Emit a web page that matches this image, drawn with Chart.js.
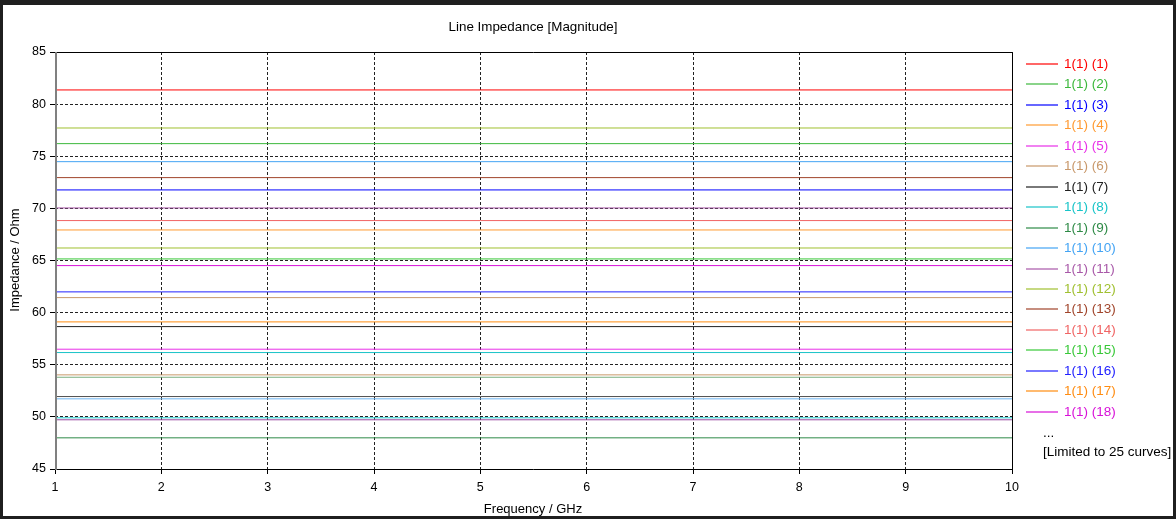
<!DOCTYPE html>
<html>
<head>
<meta charset="utf-8">
<script src="https://cdn.jsdelivr.net/npm/chart.js@4.4.1/dist/chart.umd.min.js"></script>
<style>
    html, body { margin: 0; padding: 0; background: #1f1f1f; }
    #frame { position: absolute; left: 3px; top: 5px; width: 1170px; height: 511px; background: #fff; }
</style>
</head>
<body>
<div id="frame"><canvas id="chart" width="1170" height="511"></canvas></div>
<script>
// Frequenzpunkte (GHz) und Impedanz je Kurve (Ohm), Kurven 1..25
const frequencies = [1, 2, 3, 4, 5, 6, 7, 8, 9, 10];
const curveNames = [
    "1(1) (1)", "1(1) (2)", "1(1) (3)", "1(1) (4)", "1(1) (5)",
    "1(1) (6)", "1(1) (7)", "1(1) (8)", "1(1) (9)", "1(1) (10)",
    "1(1) (11)", "1(1) (12)", "1(1) (13)", "1(1) (14)", "1(1) (15)",
    "1(1) (16)", "1(1) (17)", "1(1) (18)", "1(1) (19)", "1(1) (20)",
    "1(1) (21)", "1(1) (22)", "1(1) (23)", "1(1) (24)", "1(1) (25)"
];
const impedance = [
    81.36, 76.21, 71.77, 67.93, 56.49,
    61.44, 58.66, 56.17, 47.99, 74.48,
    70.04, 77.71, 72.95, 68.83, 65.15,
    61.99, 59.11, 64.51, 54.03, 51.95,
    49.91, 53.80, 51.73, 49.72, 66.20
];
const curveColors = [
    "#ff0000", "#3cb83c", "#0000ff", "#ff9a30", "#e830e8",
    "#c8986a", "#202020", "#18c4c8", "#2e8a46", "#44a4f4",
    "#a858a8", "#a0c030", "#a0442a", "#f06464", "#38c838",
    "#2020ff", "#ff8c10", "#d810d8", "#c8986a", "#505050",
    "#18c4c8", "#7aae80", "#6cb4f0", "#9848a0", "#a0c030"
];
const legendCount = 18; // Legende zeigt nur die ersten 18 Kurven
const xTicks = [1, 10, 1];   // min, max, step
const yTicks = [45, 85, 5];

const FONT = "Liberation Sans";

const datasets = impedance.map((v, i) => ({
    label: curveNames[i],
    data: frequencies.map(f => ({ x: f, y: v })),
    borderColor: curveColors[i],
    borderWidth: 1,
    pointRadius: 0,
    fill: false,
}));

// Rahmen, Titel, Achsentitel und Legende selbst zeichnen
const decorations = {
    id: "decorations",
    afterDraw(chart) {
        const { ctx, chartArea: a } = chart;
        ctx.save();
        ctx.strokeStyle = "#000";
        ctx.lineWidth = 1;
        ctx.beginPath();
        ctx.moveTo(a.left, a.top + 0.5);
        ctx.lineTo(a.right + 0.5, a.top + 0.5);
        ctx.lineTo(a.right + 0.5, a.bottom + 0.5);
        ctx.lineTo(a.left, a.bottom + 0.5);
        ctx.stroke();
        ctx.strokeStyle = "#808080";
        ctx.lineWidth = 2;
        ctx.beginPath();
        ctx.moveTo(a.left + 1, a.top);
        ctx.lineTo(a.left + 1, a.bottom + 1);
        ctx.stroke();

        ctx.fillStyle = "#000";
        ctx.font = `13.4px "${FONT}"`;
        ctx.textAlign = "center";
        ctx.textBaseline = "middle";
        ctx.fillText("Line Impedance [Magnitude]", 530, 22);
        ctx.font = `13px "${FONT}"`;
        ctx.fillText("Frequency / GHz", 530, 504);
        ctx.save();
        ctx.translate(12, 255);
        ctx.rotate(-Math.PI / 2);
        ctx.fillText("Impedance / Ohm", 0, 0);
        ctx.restore();

        // Legende
        ctx.textAlign = "left";
        ctx.font = `13.5px "${FONT}"`;
        for (let i = 0; i < legendCount; i++) {
            const y = Math.round(59 + i * 20.45);
            ctx.strokeStyle = curveColors[i];
            ctx.lineWidth = 1.2;
            ctx.beginPath();
            ctx.moveTo(1023, y);
            ctx.lineTo(1055, y);
            ctx.stroke();
            ctx.fillStyle = curveColors[i];
            ctx.fillText(curveNames[i], 1061, y);
        }
        ctx.fillStyle = "#000";
        ctx.fillText("...", 1040, 428);
        ctx.fillText(`[Limited to ${impedance.length} curves]`, 1040, 447);
        ctx.restore();
    }
};

new Chart(document.getElementById("chart"), {
    type: "line",
    data: { datasets },
    options: {
        responsive: false,
        animation: false,
        layout: { padding: { top: 47, right: 161, left: 0, bottom: 0 } },
        plugins: { legend: { display: false }, tooltip: { enabled: false } },
        scales: {
            x: {
                type: "linear",
                min: xTicks[0], max: xTicks[1],
                ticks: { stepSize: xTicks[2], color: "#000", padding: 6, font: { family: FONT, size: 12.5 } },
                grid: { color: "#222", tickColor: "#000", tickLength: 5, tickBorderDash: [] },
                border: { display: false, dash: [3, 2] },
                afterFit: s => { s.height = 47; },
            },
            y: {
                min: yTicks[0], max: yTicks[1],
                ticks: { stepSize: yTicks[2], color: "#000", padding: 4, font: { family: FONT, size: 12.5 } },
                grid: { color: "#222", tickColor: "#000", tickLength: 5, tickBorderDash: [] },
                border: { display: false, dash: [3, 2] },
                afterFit: s => { s.width = 52; },
            },
        },
    },
    plugins: [decorations],
});
</script>
</body>
</html>
